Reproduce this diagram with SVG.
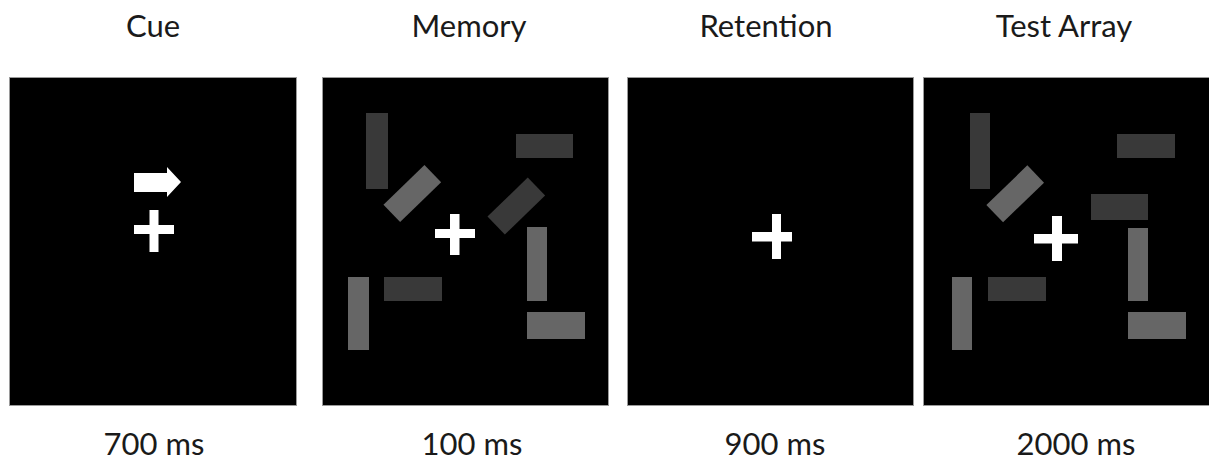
<svg xmlns="http://www.w3.org/2000/svg" width="1209" height="466" viewBox="0 0 1209 466">
<style>
  .bg{fill:#ffffff}
  .panel{fill:#000000;stroke:#9a9a9a;stroke-width:1}
  .fix{fill:#ffffff}
  .lt{fill:#666666}
  .dk{fill:#393939}
  .lbl{font-family:Lato,"Open Sans","Liberation Sans",sans-serif;font-size:31px;fill:#1a1a1a;text-anchor:middle}
</style>
<rect class="bg" x="0" y="0" width="1209" height="466"/>

<g id="cue">
  <text class="lbl" x="153" y="37">Cue</text>
  <rect class="panel" x="9.5" y="77.5" width="287" height="328"/>
  <polygon class="fix" points="134,173 167,173 167,167 181,182 167,197 167,192 134,192"/>
  <rect class="fix" x="134" y="225" width="40" height="9"/>
  <rect class="fix" x="149.5" y="210" width="9" height="42"/>
  <text class="lbl" x="154" y="455">700 ms</text>
</g>

<g id="memory">
  <text class="lbl" x="469" y="37">Memory</text>
  <rect class="panel" x="322.5" y="77.5" width="286" height="328"/>
  <rect class="dk" x="366" y="113" width="22" height="76"/>
  <rect class="lt" x="-28.5" y="-12" width="57" height="24" transform="translate(412.3,193.5) rotate(-44)"/>
  <rect class="dk" x="516" y="134" width="57" height="24"/>
  <rect class="dk" x="-28" y="-12.5" width="56" height="25" transform="translate(516.3,206) rotate(-44)"/>
  <rect class="lt" x="527" y="227" width="20" height="74"/>
  <rect class="lt" x="348" y="277" width="21" height="73"/>
  <rect class="dk" x="384" y="277" width="58" height="24"/>
  <rect class="lt" x="527" y="312" width="58" height="27"/>
  <rect class="fix" x="435" y="229" width="40" height="9"/>
  <rect class="fix" x="450" y="214" width="9.5" height="41"/>
  <text class="lbl" x="472" y="455">100 ms</text>
</g>

<g id="retention">
  <text class="lbl" x="766" y="37">Retention</text>
  <rect class="panel" x="627.5" y="77.5" width="286" height="328"/>
  <rect class="fix" x="752" y="232" width="40" height="9.5"/>
  <rect class="fix" x="772" y="214" width="9" height="45"/>
  <text class="lbl" x="775" y="455">900 ms</text>
</g>

<g id="test-array">
  <text class="lbl" x="1064" y="37">Test Array</text>
  <rect class="panel" x="923.5" y="77.5" width="290" height="328"/>
  <rect class="dk" x="970" y="113" width="20" height="76"/>
  <rect class="lt" x="-28.5" y="-12" width="57" height="24" transform="translate(1015.2,193.8) rotate(-44)"/>
  <rect class="dk" x="1117" y="134" width="58" height="24"/>
  <rect class="dk" x="1091" y="194" width="57" height="26"/>
  <rect class="lt" x="1128" y="228" width="20" height="73"/>
  <rect class="lt" x="952" y="277" width="20" height="73"/>
  <rect class="dk" x="988" y="277" width="58" height="24"/>
  <rect class="lt" x="1128" y="312" width="58" height="27"/>
  <rect class="fix" x="1034" y="234" width="44" height="9.5"/>
  <rect class="fix" x="1052" y="216" width="10" height="45"/>
  <text class="lbl" x="1076" y="455">2000 ms</text>
</g>
</svg>
